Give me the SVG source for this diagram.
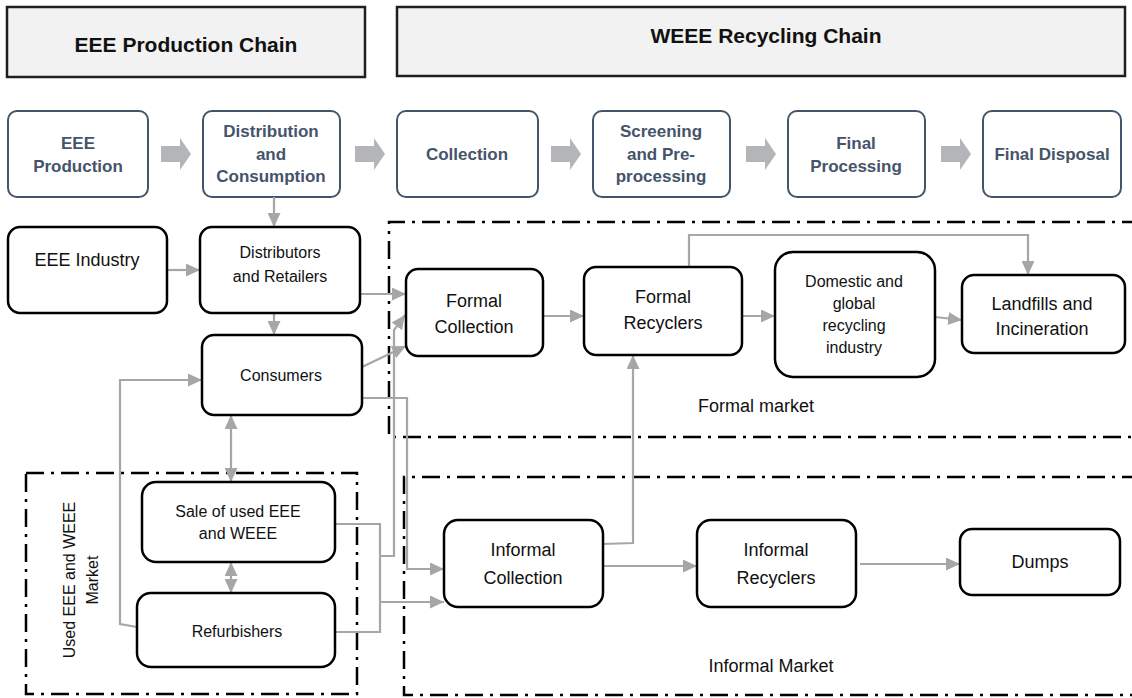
<svg xmlns="http://www.w3.org/2000/svg" width="1132" height="698" viewBox="0 0 1132 698">
<style>
text{font-family:"Liberation Sans",Arial,sans-serif;text-anchor:middle;fill:#111}
.hdr{fill:#f2f2f2;stroke:#1f1f1f;stroke-width:2.5}
.ht{font-size:21px;font-weight:bold}
.step{fill:#fff;stroke:#44546a;stroke-width:2}
.st{font-size:17px;font-weight:bold;fill:#44546a}
.blk{fill:#b3b5b9}
.node{fill:#fff;stroke:#000;stroke-width:2.5}
.n16{font-size:16px}
.n18{font-size:18px}
.zone{fill:none;stroke:#000;stroke-width:2.5;stroke-dasharray:18 7 3 7}
.con{fill:none;stroke:#a6a6a6;stroke-width:2.2}
.arr{marker-end:url(#ah)}
.dbl{marker-end:url(#ah);marker-start:url(#ah)}
</style>
<defs>
<marker id="ah" markerUnits="userSpaceOnUse" markerWidth="15" markerHeight="13" refX="14" refY="6.5" orient="auto-start-reverse">
<path d="M0,0 L14,6.5 L0,13 Z" fill="#a6a6a6"/>
</marker>
<path id="barrow" d="M0,-8 H19 V-16 L30,0 L19,16 V8 H0 Z"/>
</defs>

<g id="header-production">
<rect class="hdr" x="7" y="7" width="358" height="70"/>
<text class="ht" x="186" y="52">EEE Production Chain</text>
</g>
<g id="header-recycling">
<rect class="hdr" x="397" y="7" width="728" height="69"/>
<text class="ht" x="766" y="43">WEEE Recycling Chain</text>
</g>

<g id="step-arrows" class="blk">
<use href="#barrow" x="161" y="154"/>
<use href="#barrow" x="355" y="154"/>
<use href="#barrow" x="551" y="154"/>
<use href="#barrow" x="746" y="154"/>
<use href="#barrow" x="941" y="154"/>
</g>

<g id="step-eee-production">
<rect class="step" x="8" y="111" width="140" height="86" rx="9"/>
<text class="st" x="78" y="149">EEE</text>
<text class="st" x="78" y="172">Production</text>
</g>
<g id="step-distribution">
<rect class="step" x="203" y="111" width="137" height="86" rx="9"/>
<text class="st" x="271" y="137">Distribution</text>
<text class="st" x="271" y="160">and</text>
<text class="st" x="271" y="182">Consumption</text>
</g>
<g id="step-collection">
<rect class="step" x="397" y="111" width="141" height="86" rx="9"/>
<text class="st" x="467" y="160">Collection</text>
</g>
<g id="step-screening">
<rect class="step" x="593" y="111" width="137" height="86" rx="9"/>
<text class="st" x="661" y="137">Screening</text>
<text class="st" x="661" y="160">and Pre-</text>
<text class="st" x="661" y="182">processing</text>
</g>
<g id="step-final-processing">
<rect class="step" x="788" y="111" width="137" height="86" rx="9"/>
<text class="st" x="856" y="149">Final</text>
<text class="st" x="856" y="172">Processing</text>
</g>
<g id="step-final-disposal">
<rect class="step" x="983" y="111" width="138" height="86" rx="9"/>
<text class="st" x="1052" y="160">Final Disposal</text>
</g>

<g id="zones">
<path class="zone" d="M1140,222 H389 V437 H1140"/>
<path class="zone" d="M1140,477 H404 V695 H1140"/>
<rect class="zone" x="26" y="473" width="331" height="221"/>
</g>
<g id="zone-labels">
<text class="n18" x="756" y="412">Formal market</text>
<text class="n18" x="771" y="672">Informal Market</text>
<text class="n16" transform="translate(75,580) rotate(-90)">Used EEE and WEEE</text>
<text class="n16" transform="translate(98,580) rotate(-90)">Market</text>
</g>

<g id="connectors">
<path class="con arr" d="M274,197 V227"/>
<path class="con arr" d="M168,270 H200"/>
<path class="con arr" d="M274,313 V335"/>
<path class="con arr" d="M361,294 H406"/>
<path class="con arr" d="M362,367 L406,346"/>
<path class="con arr" d="M362,398 H407 V569 H444"/>
<path class="con" d="M335,524 H380 V632 H335"/>
<path class="con arr" d="M380,602 H444"/>
<path class="con arr" d="M380,556 H394 V330 L405,315"/>
<path class="con arr" d="M137,627 L120,624 V380 H202"/>
<path class="con dbl" d="M231,415 V482"/>
<path class="con dbl" d="M231,562 V593"/>
<path class="con arr" d="M543,316 H584"/>
<path class="con arr" d="M742,316 H775"/>
<path class="con arr" d="M935,317 L962,320"/>
<path class="con arr" d="M689,267 V235 H1028 V275"/>
<path class="con arr" d="M603,544 L633,543 V355"/>
<path class="con arr" d="M603,566 H697"/>
<path class="con arr" d="M860,564 H960"/>
</g>

<g id="node-eee-industry">
<rect class="node" x="8" y="227" width="159" height="86" rx="12"/>
<text class="n18" x="87" y="266">EEE Industry</text>
</g>
<g id="node-distributors">
<rect class="node" x="200" y="227" width="160" height="86" rx="12"/>
<text class="n16" x="280" y="258">Distributors</text>
<text class="n16" x="280" y="282">and Retailers</text>
</g>
<g id="node-consumers">
<rect class="node" x="202" y="335" width="160" height="80" rx="12"/>
<text class="n16" x="281" y="381">Consumers</text>
</g>
<g id="node-formal-collection">
<rect class="node" x="406" y="269" width="137" height="87" rx="12"/>
<text class="n18" x="474" y="307">Formal</text>
<text class="n18" x="474" y="333">Collection</text>
</g>
<g id="node-formal-recyclers">
<rect class="node" x="584" y="267" width="158" height="88" rx="12"/>
<text class="n18" x="663" y="303">Formal</text>
<text class="n18" x="663" y="329">Recyclers</text>
</g>
<g id="node-domestic">
<rect class="node" x="775" y="252" width="160" height="125" rx="18"/>
<text class="n16" x="854" y="287">Domestic and</text>
<text class="n16" x="854" y="309">global</text>
<text class="n16" x="854" y="331">recycling</text>
<text class="n16" x="854" y="353">industry</text>
</g>
<g id="node-landfills">
<rect class="node" x="962" y="275" width="163" height="78" rx="12"/>
<text class="n18" x="1042" y="310">Landfills and</text>
<text class="n18" x="1042" y="335">Incineration</text>
</g>
<g id="node-sale-used">
<rect class="node" x="142" y="482" width="193" height="80" rx="14"/>
<text class="n16" x="238" y="517">Sale of used EEE</text>
<text class="n16" x="238" y="539">and WEEE</text>
</g>
<g id="node-refurbishers">
<rect class="node" x="137" y="593" width="198" height="74" rx="14"/>
<text class="n16" x="237" y="637">Refurbishers</text>
</g>
<g id="node-informal-collection">
<rect class="node" x="444" y="520" width="159" height="87" rx="14"/>
<text class="n18" x="523" y="556">Informal</text>
<text class="n18" x="523" y="584">Collection</text>
</g>
<g id="node-informal-recyclers">
<rect class="node" x="697" y="520" width="159" height="87" rx="14"/>
<text class="n18" x="776" y="556">Informal</text>
<text class="n18" x="776" y="584">Recyclers</text>
</g>
<g id="node-dumps">
<rect class="node" x="960" y="529" width="160" height="66" rx="12"/>
<text class="n18" x="1040" y="568">Dumps</text>
</g>
</svg>
